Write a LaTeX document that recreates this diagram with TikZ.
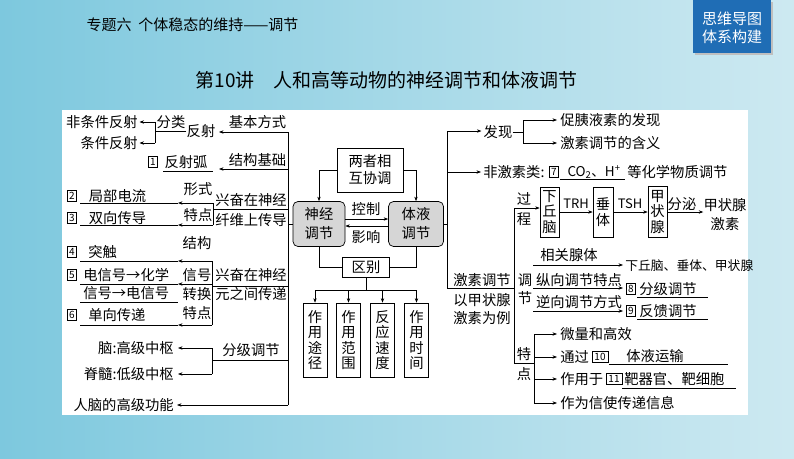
\documentclass[tikz,border=0pt]{standalone}
\usepackage{fontspec}
\setmainfont{Noto Sans CJK SC}
\usetikzlibrary{arrows.meta,calc,positioning}
\definecolor{hdblue}{RGB}{31,109,181}
\definecolor{bgl}{RGB}{125,200,222}
\definecolor{bgm}{RGB}{190,228,238}
\definecolor{bgr}{RGB}{205,233,241}
\definecolor{gfill}{RGB}{214,214,214}
\tikzset{
	tx/.style={font=\fontsize{14.3}{17}\selectfont, inner sep=0pt},
	num/.style={draw, inner sep=0pt, minimum width=9, minimum height=11,
		font=\fontsize{10}{10}\selectfont, line width=0.6pt},
	gbox/.style={tx, draw, rounded corners=5pt, fill=gfill, align=center,
		minimum width=52, minimum height=45, line width=0.7pt,
		font=\fontsize{14.3}{19}\selectfont},
	vbox/.style={tx, draw, align=center, line width=0.7pt,
		font=\fontsize{14.3}{15.5}\selectfont},
	ar/.style={-{Stealth[length=4.5pt,width=3.4pt]}},
}
\begin{document}
\begin{tikzpicture}[x=1pt,y=-1pt,line width=0.6pt]
\useasboundingbox (0,0) rectangle (794,458);
% background and heading
\shade[left color=bgl, middle color=bgm, right color=bgr] (0,0) rectangle (794,458);
\fill[white] (62,110) rectangle (748,415);
\fill[black!25] (695,2) rectangle (773,55);
\fill[hdblue] (693,0) rectangle (771,53);
\node[font=\fontsize{15}{18}\selectfont, text=white, align=center] (tag) at (732,28) {思维导图\\体系构建};
\node[anchor=west, font=\fontsize{15}{17}\selectfont] (hd) at (83,25) {专题六\ \ 个体稳态的维持——调节};
\node[anchor=west, font=\fontsize{19}{21}\selectfont] (title) at (192,80) {第10讲\quad 人和高等动物的神经调节和体液调节};

% centre
\node[gbox] (sj) at (319,224) {神经\\调节};
\node[gbox, minimum width=55] (ty) at (416,224) {体液\\调节};
\node[tx, draw, align=center, minimum width=66, minimum height=44,
	font=\fontsize{14.3}{17}\selectfont, line width=0.7pt] (xt) at (370,170) {两者相\\互协调};
\draw[ar] (xt.west) -| (sj.north);
\draw[ar] (xt.east) -| (ty.north);
\draw[ar] ([yshift=5pt]sj.east) -- ([yshift=5pt]ty.west);
\draw[ar] ([yshift=-2pt]ty.west) -- ([yshift=-2pt]sj.east);
\node[tx] (kz) at (366,209) {控制};
\node[tx] (yx) at (366,237) {影响};
\node[tx, draw, minimum width=47, minimum height=20, line width=0.7pt] (qb) at (366,267) {区别};
\draw (sj.south) |- (qb.west);
\draw (ty.south) |- (qb.east);
\foreach \n/\x/\t in {b1/315/{作\\用\\途\\径}, b2/348.5/{作\\用\\范\\围},
		b3/382.5/{反\\应\\速\\度}, b4/416.5/{作\\用\\时\\间}}
	\node[vbox, minimum width=24, minimum height=74] (\n) at (\x,340) {\t};
\coordinate (qj) at (366,290);
\draw (qb.south) -- (qj);
\draw (b1.north |- qj) -- (b4.north |- qj);
\foreach \n in {b1,b2,b3,b4}
	\draw[ar] (\n.north |- qj) -- (\n.north);

% left trunk
\coordinate (lt0) at (288,132);
\coordinate (lt1) at (288,405);
\draw (lt0) -- (lt1);
\draw (sj.west) -- (sj.west -| lt0);

% reflex
\node[tx, anchor=east] (ftj) at (138,122) {非条件反射};
\node[tx, anchor=east] (tj) at (138,143) {条件反射};
\node[tx] (fl) at (171,122) {分类};
\node[tx] (fs) at (201,131) {反射};
\draw (fs.west) -- (155,131);
\draw (155,122) -- (155,143);
\draw[ar, shorten >=1.5pt] (155,122) -- (ftj.east);
\draw[ar, shorten >=1.5pt] (155,143) -- (tj.east);
\node[tx] (jbfs) at (257.5,122) {基本方式};
\draw[ar] (lt0) -- (219,132);
\node[tx] (jgjc) at (257.5,160) {结构基础};
\draw[ar] (288,169) -- (219,169);
\node[num] (n1) at (153,162) {1};
\node[tx] (fsh) at (186,162) {反射弧};
\draw (163,171) -- (213,171);

% along the fibre
\node[tx] (xn1) at (251,200) {兴奋在神经};
\node[tx] (xn2) at (251,220) {纤维上传导};
\draw (213,209) -- (288,209);
\node[tx] (xs) at (198,189) {形式};
\node[tx] (td1) at (198,215) {特点};
\draw (213,203) -- (213,225);
\draw[ar] (213,203) -- (178,203);
\draw[ar] (213,225) -- (178,225);
\node[num] (n2) at (72,196) {2};
\node[tx] (jbdl) at (117.5,196) {局部电流};
\draw (80,203) -- (178,203);
\node[num] (n3) at (72,218) {3};
\node[tx] (sxcd) at (117.5,218) {双向传导};
\draw (80,225) -- (178,225);

% between neurons
\node[tx] (xn3) at (251,275) {兴奋在神经};
\node[tx] (xn4) at (251,294) {元之间传递};
\draw (212,286) -- (288,286);
\node[tx] (jg) at (197,243) {结构};
\node[tx] (xh) at (197,275) {信号};
\node[tx] (zh) at (197,294) {转换};
\node[tx] (td2) at (197,313) {特点};
\draw (212,261) -- (212,325);
\draw[ar] (212,261) -- (178,261);
\draw[ar] (212,284) -- (178,284);
\draw[ar] (212,325) -- (178,325);
\node[num] (n4) at (72,252) {4};
\node[tx, anchor=west] (tc) at (88,252) {突触};
\draw (80,261) -- (178,261);
\node[num] (n5) at (72,275) {5};
\node[tx, anchor=west] (dxh) at (83,275) {电信号→化学};
\draw (80,284) -- (178,284);
\node[tx, anchor=west] (xhd) at (83,293) {信号→电信号};
\draw (80,302) -- (178,302);
\node[num] (n6) at (72,315) {6};
\node[tx, anchor=west] (dxcd) at (88,315) {单向传递};
\draw (80,325) -- (178,325);

% levels
\node[tx] (fjtj) at (251,350) {分级调节};
\draw (288,360) -- (212,360);
\draw (212,348) -- (212,374);
\draw[ar] (212,348) -- (178,348);
\draw[ar] (212,374) -- (178,374);
\node[tx, anchor=east] (nao) at (174,348) {脑:高级中枢};
\node[tx, anchor=east] (jisui) at (174,374) {脊髓:低级中枢};
\node[tx, anchor=east] (rn) at (174,405) {人脑的高级功能};
\draw[ar, shorten >=3pt] (lt1) -- (rn.east);

% right trunk
\coordinate (rt0) at (447,131);
\coordinate (rt1) at (447,288);
\draw (rt0) -- (rt1);
\draw (ty.east) -- (ty.east -| rt0);
\node[tx] (fx) at (498,132) {发现};
\draw[ar, shorten >=2pt] (rt0) -- (rt0 -| fx.west);
\draw (fx.east) -- (523,132);
\draw (523,120) -- (523,143);
\draw[ar] (523,120) -- (557,120);
\draw[ar] (523,143) -- (557,143);
\node[tx, anchor=west] (cyy) at (560,120) {促胰液素的发现};
\node[tx, anchor=west] (hy) at (560,143) {激素调节的含义};
\node[tx, anchor=west] (fjs) at (483,172) {非激素类:};
\draw[ar, shorten >=2pt] (447,172) -- (fjs.west);
\node[num] (n7) at (554,172) {7};
\node[tx, font=\fontsize{13.5}{15}\selectfont] (co2) at (594,172) {CO\textsubscript{2}、H\textsuperscript{+}};
\draw (560,179) -- (625,179);
\node[tx, anchor=west] (dhx) at (627,172) {等化学物质调节};

% thyroid hormone
\node[tx] (jstj) at (482,280) {激素调节};
\draw (rt1) -- (514,288);
\node[tx, align=center, font=\fontsize{14.3}{18}\selectfont] (yjz) at (482,309) {以甲状腺\\激素为例};
\coordinate (st0) at (514,208);
\coordinate (st1) at (514,363);
\draw (st0) -- (st1);
\node[tx] (guo) at (524,199) {过};
\node[tx] (cheng) at (524,219) {程};
\node[vbox, minimum width=19, minimum height=50] (xqn) at (549.5,212) {下\\丘\\脑};
\draw[ar] (st0) -- (st0 -| xqn.west);
\node[tx, font=\fontsize{13}{15}\selectfont] (trh) at (576,204) {TRH};
\node[vbox, minimum width=20, minimum height=50] (cz) at (603,212) {垂\\体};
\draw[ar] (xqn.east) -- (cz.west);
\node[tx, font=\fontsize{13}{15}\selectfont] (tsh) at (630,204) {TSH};
\node[vbox, minimum width=19, minimum height=51] (jzx) at (657.5,212) {甲\\状\\腺};
\draw[ar] (cz.east) -- (jzx.west);
\node[tx] (fm) at (682,204) {分泌};
\node[tx, align=center, font=\fontsize{14.3}{19}\selectfont] (jzjs) at (725,215) {甲状腺\\激素};
\draw[ar] (jzx.east) -- (jzx.east -| jzjs.west);

% regulation
\node[tx] (tiao) at (525,280) {调};
\node[tx] (jie) at (525,298) {节};
\node[tx] (xgxt) at (569,255) {相关腺体};
\draw[ar] (533,265) -- (623,265);
\node[tx, anchor=west, font=\fontsize{12.8}{15}\selectfont] (xcj) at (625,266) {下丘脑、垂体、甲状腺};
\node[tx] (zxtj) at (579,280) {纵向调节特点};
\draw[ar] (533,288) -- (623,288);
\node[num] (n8) at (631,289) {8};
\node[tx] (fjtj2) at (668,289) {分级调节};
\draw (637,297) -- (708,297);
\node[tx] (nxtj) at (579,302) {逆向调节方式};
\draw[ar] (533,311) -- (623,311);
\node[num] (n9) at (631,311) {9};
\node[tx] (fktj) at (668,311) {反馈调节};
\draw (637,319) -- (708,319);

% features
\node[tx] (te) at (524,354) {特};
\node[tx] (dian) at (524,374) {点};
\draw (st1) -- (534,363);
\draw (534,334) -- (534,403);
\foreach \y in {334,357,379,403}
	\draw[ar] (534,\y) -- (557,\y);
\node[tx, anchor=west] (wl) at (560,334) {微量和高效};
\node[tx, anchor=west] (tg) at (560,357) {通过};
\node[num, minimum width=16] (n10) at (600,357) {10};
\node[tx] (tyys) at (655,356) {体液运输};
\draw (609,364) -- (728,364);
\node[tx, anchor=west] (zyy) at (560,379) {作用于};
\node[num, minimum width=16] (n11) at (614,379) {11};
\node[tx, anchor=west] (bqg) at (624,379) {靶器官、靶细胞};
\draw (622,388) -- (736,388);
\node[tx, anchor=west] (xs2) at (560,403) {作为信使传递信息};
\end{tikzpicture}
\end{document}
